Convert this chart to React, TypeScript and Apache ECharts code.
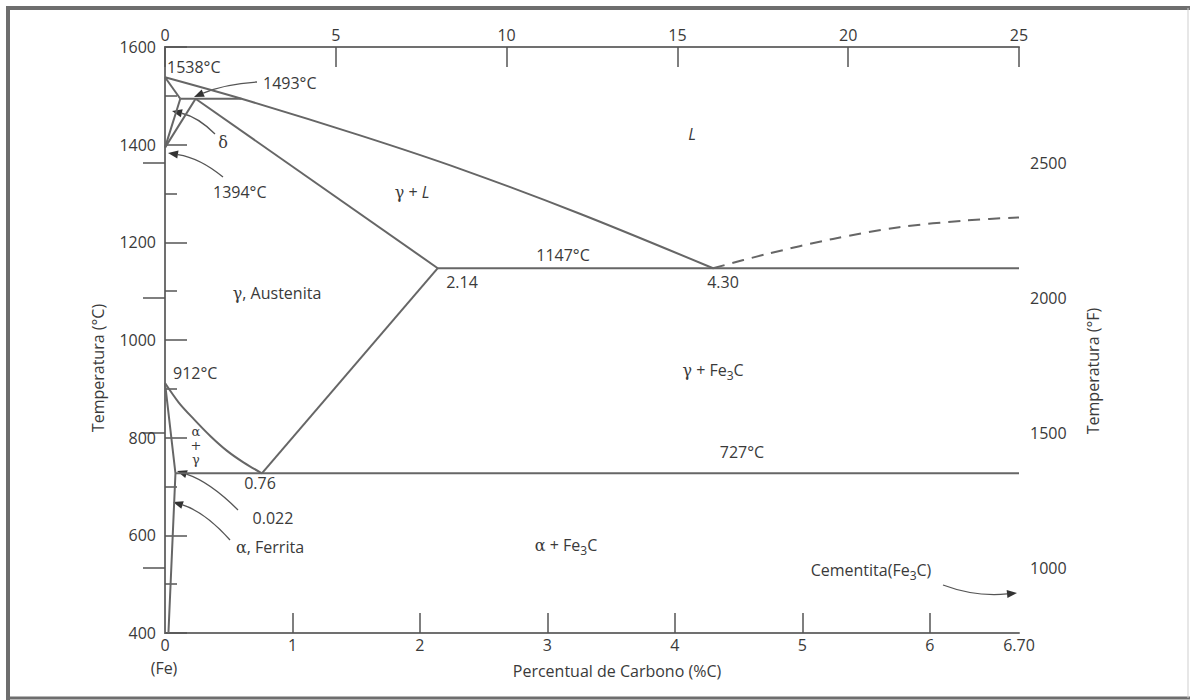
import React, { useEffect, useRef } from "react";
import * as echarts from "echarts";

// ---- Data (wt% C, °C) ----
const liquidus = [[0, 1538], [0.6, 1494], [1.53, 1419], [2.32, 1350], [3.26, 1258], [4.3, 1147]];
const deltaLiquid = [[0, 1538], [0.12, 1494]];
const deltaSolvus = [[0.12, 1494], [0, 1394]];
const gammaDelta = [[0.24, 1494], [0, 1394]];
const peritectic = [[0.12, 1494], [0.6, 1494]];
const solidus = [[0.24, 1494], [2.14, 1147]];
const eutectic = [[2.14, 1147], [6.7, 1147]];
const acmLine = [[2.14, 1147], [0.76, 727]];
const a3Line = [[0, 912], [0.108, 872], [0.226, 838], [0.357, 803], [0.487, 773], [0.618, 749], [0.76, 727]];
const ferriteLine = [[0, 912], [0.082, 727], [0.027, 400]];
const eutectoid = [[0.082, 727], [6.7, 727]];
const cementiteLiquidus = [[4.3, 1147], [4.72, 1176], [5.24, 1207], [5.76, 1231], [6.29, 1245], [6.7, 1251]];

const bottomLabels = [0, 1, 2, 3, 4, 5, 6, 6.7];
const bottomTicks = [1, 2, 3, 4, 5, 6];
const fahrenheitTicks = [1000, 1500, 2000, 2500];
const fahrenheitRange = [759, 2930];

const FONT = "'Open Sans', sans-serif";
const SERIF = "'DejaVu Serif', serif";
const TEXT = "#3a3a3a";
const LINE = "#666666";
const AXIS = "#707070";

function arrow(sx: number, sy: number, cx: number, cy: number, ex: number, ey: number) {
  const dx = ex - cx, dy = ey - cy;
  const len = Math.hypot(dx, dy);
  const ux = dx / len, uy = dy / len;
  const L = 10, W = 4;
  const bx = ex - ux * L, by = ey - uy * L;
  return [
    { type: "bezierCurve", shape: { x1: sx, y1: sy, x2: bx, y2: by, cpx1: cx, cpy1: cy }, style: { stroke: "#555", lineWidth: 1.3, fill: null } },
    { type: "polygon", shape: { points: [[ex, ey], [bx - uy * W, by + ux * W], [bx + uy * W, by - ux * W]] }, style: { fill: "#333" } },
  ];
}

const rich = {
  a: { fontSize: 16, fontFamily: FONT, fill: TEXT, color: TEXT },
  g: { fontSize: 16, fontFamily: SERIF, fill: TEXT, color: TEXT },
  i: { fontSize: 16, fontFamily: FONT, fontStyle: "italic", fill: TEXT, color: TEXT },
  s: { fontSize: 12, fontFamily: FONT, fill: TEXT, color: TEXT, padding: [10, 0, 0, 0] },
};

function txt(x: number, y: number, text: string, align = "center", extra: any = {}) {
  return {
    type: "text",
    x,
    y,
    style: { text, fontSize: 16, fontFamily: FONT, fill: TEXT, align, verticalAlign: "middle", rich, ...extra },
  };
}

function lineSeries(name: string, data: number[][], extra: any = {}) {
  return {
    name,
    type: "line",
    data,
    showSymbol: false,
    symbol: "none",
    silent: true,
    lineStyle: { color: LINE, width: 2, ...(extra.lineStyle || {}) },
    smooth: extra.smooth || false,
    xAxisIndex: 0,
    yAxisIndex: 0,
  };
}

export default function App() {
  const ref = useRef<HTMLDivElement>(null);
  useEffect(() => {
    if (!ref.current) return;
    const chart = echarts.init(ref.current, null, { renderer: "svg" });
    const graphic: any[] = [
      // frame
      { type: "line", shape: { x1: 6, y1: 8, x2: 1190, y2: 8 }, style: { stroke: "#6e6e6e", lineWidth: 4 } },
      { type: "line", shape: { x1: 8, y1: 6, x2: 8, y2: 700 }, style: { stroke: "#6e6e6e", lineWidth: 4 } },
      { type: "line", shape: { x1: 6, y1: 698, x2: 1190, y2: 698 }, style: { stroke: "#6e6e6e", lineWidth: 3 } },
      { type: "line", shape: { x1: 1188, y1: 8, x2: 1188, y2: 698 }, style: { stroke: "#cfcfcf", lineWidth: 1 } },
      // axis names
      { type: "text", x: 98, y: 368, rotation: Math.PI / 2, style: { text: "Temperatura (°C)", fontSize: 16, fontFamily: FONT, fill: TEXT, align: "center", verticalAlign: "middle" } },
      { type: "text", x: 1093, y: 371, rotation: Math.PI / 2, style: { text: "Temperatura (°F)", fontSize: 16, fontFamily: FONT, fill: TEXT, align: "center", verticalAlign: "middle" } },
      txt(617, 671, "Percentual de Carbono (%C)"),
      txt(164, 668, "(Fe)"),
      // annotations
      txt(167, 67, "1538°C", "left"),
      txt(263, 83, "1493°C", "left"),
      txt(223, 142, "{g|δ}"),
      txt(213, 192, "1394°C", "left"),
      txt(692, 134, "{i|L}"),
      txt(412, 192, "{g|γ}{a| + }{i|L}"),
      txt(563, 255, "1147°C"),
      txt(462, 282, "2.14"),
      txt(723, 282, "4.30"),
      txt(277, 293, "{g|γ}{a|, Austenita}"),
      txt(173, 373, "912°C", "left"),
      txt(713, 370, "{g|γ}{a| + Fe}{s|3}{a|C}"),
      {
        type: "text",
        x: 196,
        y: 445,
        style: { text: "α\n+\nγ", fontSize: 13, lineHeight: 14, fontFamily: SERIF, fill: TEXT, align: "center", verticalAlign: "middle" },
      },
      txt(742, 452, "727°C"),
      txt(260, 483, "0.76"),
      txt(273, 518, "0.022"),
      txt(270, 547, "{g|α}{a|, Ferrita}"),
      txt(566, 545, "{g|α}{a| + Fe}{s|3}{a|C}"),
      txt(871, 570, "{a|Cementita(Fe}{s|3}{a|C)}"),
      ...arrow(257, 82, 225, 84, 194, 97),
      ...arrow(215, 134, 198, 117, 172, 111),
      ...arrow(223, 177, 200, 158, 168, 153),
      ...arrow(238, 510, 210, 482, 177, 471),
      ...arrow(230, 540, 205, 512, 173, 502),
      ...arrow(943, 585, 975, 597, 1017, 593),
    ];

    chart.setOption({
      animation: false,
      backgroundColor: "#ffffff",
      textStyle: { fontFamily: FONT, color: TEXT },
      grid: { left: 165, top: 47, right: 171, bottom: 67, containLabel: false },
      xAxis: [
        {
          type: "value",
          position: "bottom",
          min: 0,
          max: 6.7,
          axisLine: { show: true, lineStyle: { color: AXIS, width: 2 } },
          axisTick: { show: true, inside: true, length: 20, customValues: bottomTicks, lineStyle: { color: "#555", width: 1.5 } },
          axisLabel: {
            customValues: bottomLabels,
            formatter: (v: number) => (v === 6.7 ? "6.70" : String(v)),
            color: TEXT,
            fontSize: 16,
            fontFamily: FONT,
            margin: 4,
          },
          splitLine: { show: false },
        },
        {
          type: "value",
          position: "top",
          min: 0,
          max: 25,
          interval: 5,
          axisLine: { show: true, lineStyle: { color: AXIS, width: 2 } },
          axisTick: { show: true, inside: true, length: 20, lineStyle: { color: "#555", width: 1.5 } },
          axisLabel: { color: TEXT, fontSize: 16, fontFamily: FONT, margin: 4, formatter: (v: number) => String(v) },
          splitLine: { show: false },
        },
      ],
      yAxis: [
        {
          type: "value",
          position: "left",
          min: 400,
          max: 1600,
          interval: 200,
          axisLine: { show: true, lineStyle: { color: AXIS, width: 2 } },
          axisTick: { show: true, inside: true, length: 22, lineStyle: { color: "#555", width: 1.5 } },
          minorTick: { show: true, splitNumber: 2, length: 12, lineStyle: { color: "#555", width: 1.5 } },
          axisLabel: { color: TEXT, fontSize: 16, fontFamily: FONT, margin: 9, formatter: (v: number) => String(v) },
          splitLine: { show: false },
        },
        {
          type: "value",
          position: "right",
          min: fahrenheitRange[0],
          max: fahrenheitRange[1],
          axisLine: { show: true, lineStyle: { color: AXIS, width: 2 } },
          axisTick: { show: true, inside: true, length: 22, customValues: fahrenheitTicks, lineStyle: { color: "#555", width: 1.5 } },
          axisLabel: { customValues: fahrenheitTicks, color: TEXT, fontSize: 16, fontFamily: FONT, margin: 11, formatter: (v: number) => String(v) },
          splitLine: { show: false },
        },
      ],
      series: [
        lineSeries("liquidus", liquidus, { smooth: 0.3 }),
        lineSeries("deltaLiquid", deltaLiquid),
        lineSeries("deltaSolvus", deltaSolvus),
        lineSeries("gammaDelta", gammaDelta),
        lineSeries("peritectic", peritectic),
        lineSeries("solidus", solidus),
        lineSeries("eutectic", eutectic),
        lineSeries("acm", acmLine),
        lineSeries("a3", a3Line, { smooth: 0.3 }),
        lineSeries("ferrite", ferriteLine),
        lineSeries("eutectoid", eutectoid),
        lineSeries("cementiteLiquidus", cementiteLiquidus, { smooth: 0.3, lineStyle: { type: [12, 8] } }),
      ],
      graphic,
    });
    return () => chart.dispose();
  }, []);
  return (
    <div
      ref={ref}
      style={{ position: "fixed", left: 0, top: 0, width: 1190, height: 700, background: "#fff" }}
    />
  );
}
